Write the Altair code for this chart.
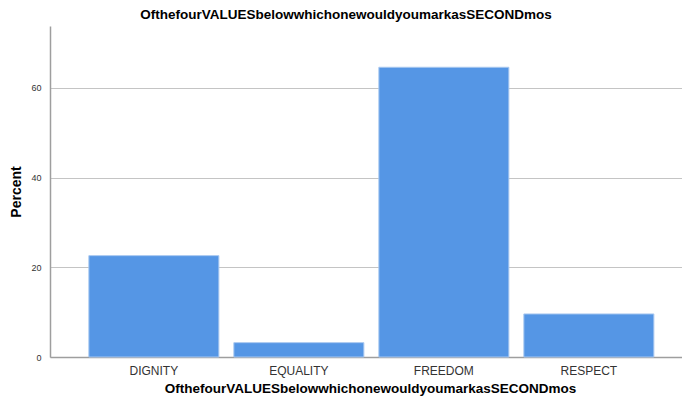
import altair as alt
import pandas as pd

categories = ["DIGNITY", "EQUALITY", "FREEDOM", "RESPECT"]
percents = [22.6, 3.2, 64.6, 9.6]
y_ticks = [0, 20, 40, 60]
title_text = "OfthefourVALUESbelowwhichonewouldyoumarkasSECONDmos"

df = pd.DataFrame({"cat": categories, "pct": percents})

font = "Liberation Sans"

bars = alt.Chart(df).mark_bar(
    color="#5596E5", stroke="#A9C8F0", strokeWidth=1
).encode(
    x=alt.X("cat:N", sort=categories,
            scale=alt.Scale(paddingInner=0.1034, paddingOuter=0.231, align=0.58),
            axis=alt.Axis(title=title_text, titleFont=font, titleFontSize=13.5,
                          titleFontWeight="bold", titleColor="#000000",
                          titlePadding=5, titleX=320,
                          labelFont=font, labelFontSize=12, labelColor="#333333",
                          labelAngle=0, labelPadding=8, ticks=False,
                          domain=True, domainColor="#9e9e9e", domainWidth=1.5,
                          grid=False)),
    y=alt.Y("pct:Q", scale=alt.Scale(domain=[0, 73.8], nice=False, zero=True),
            axis=alt.Axis(title="Percent", values=y_ticks, titleFont=font,
                          titleFontSize=14, titleFontWeight="bold", titleColor="#000000",
                          titlePadding=7,
                          labelFont=font, labelFontSize=9, labelColor="#333333",
                          labelPadding=9, ticks=False,
                          domain=True, domainColor="#9e9e9e", domainWidth=1.5,
                          grid=True, gridColor="#c4c4c4", gridWidth=1)),
)

chart = bars.properties(
    width=632,
    height=331,
    autosize=alt.AutoSizeParams(type="none"),
    padding={"left": 42, "top": 18, "right": 0, "bottom": 42},
    title=alt.TitleParams(title_text, font=font, fontSize=13.5, fontWeight="bold",
                          color="#000000", anchor="middle", dx=-20, offset=5),
).configure_view(stroke=None)

chart.save("out.html", embed_options={"renderer": "svg", "actions": False})
